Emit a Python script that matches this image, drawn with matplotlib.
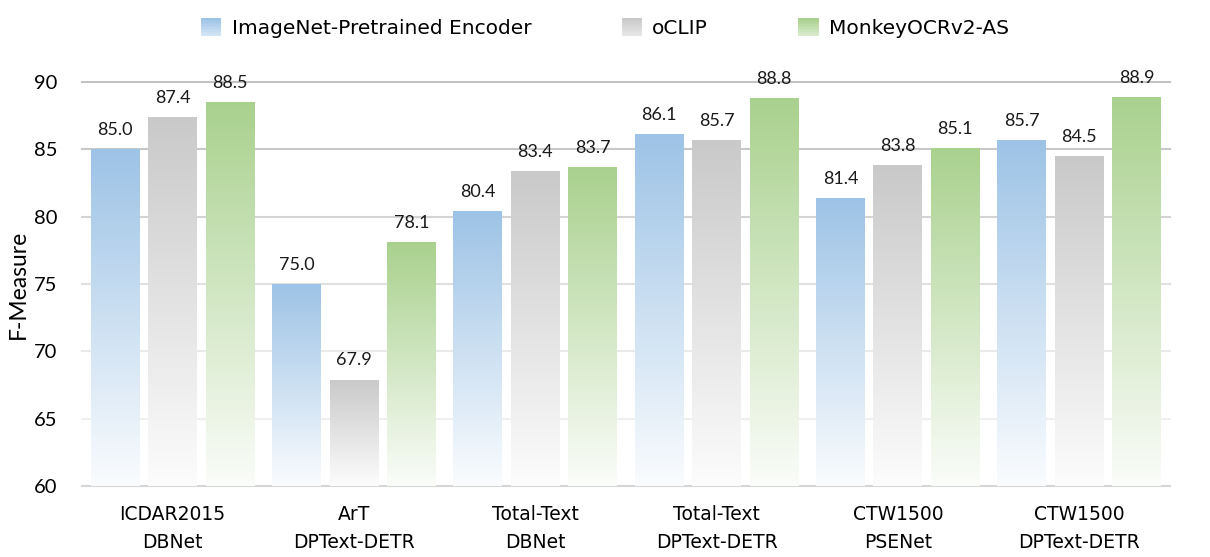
import numpy as np
import matplotlib.pyplot as plt
from matplotlib.patches import Rectangle
from matplotlib.legend_handler import HandlerBase
from matplotlib.colors import to_rgb

# Data
categories = ['ICDAR2015\nDBNet', 'ArT\nDPText-DETR', 'Total-Text\nDBNet',
              'Total-Text\nDPText-DETR', 'CTW1500\nPSENet', 'CTW1500\nDPText-DETR']
series_names = ['ImageNet-Pretrained Encoder', 'oCLIP', 'MonkeyOCRv2-AS']
imagenet = [85.0, 75.0, 80.4, 86.1, 81.4, 85.7]
oclip = [87.4, 67.9, 83.4, 85.7, 83.8, 84.5]
monkey = [88.5, 78.1, 83.7, 88.8, 85.1, 88.9]
yticks = [60, 65, 70, 75, 80, 85, 90]

colors = ['#9DC3E6', '#C9C9C9', '#A9D18E']
# gridlines fade towards the bottom
grid_colors = ['#D6D6D6', '#EFEFEF', '#EAEAEA', '#E0E0E0', '#D4D4D4', '#C8C8C8', '#C2C2C2']
label_font = ['Lato', 'DejaVu Sans']
cat_font = ['DejaVu Sans']


def fade(color, t):
    rgb = np.array(to_rgb(color))
    frac = 0.05 + 0.95 * t
    return np.ones(3) * (1 - frac) + rgb * frac


def gradient_bar(ax, x, width, bottom, top, color):
    t = np.linspace(0, 1, 256)[:, None]
    img = fade(color, t)[:, None, :]
    im = ax.imshow(img, extent=[x - width / 2, x + width / 2, bottom, top],
                   origin='lower', aspect='auto', zorder=2, interpolation='bicubic')
    rect = Rectangle((x - width / 2, bottom), width, top - bottom,
                     facecolor='none', edgecolor='none')
    ax.add_patch(rect)
    im.set_clip_path(rect)


class GradientHandler(HandlerBase):
    def create_artists(self, legend, orig_handle, xdescent, ydescent,
                       width, height, fontsize, trans):
        n = 12
        arts = []
        for k in range(n):
            t = 0.35 + 0.65 * (k + 1) / n
            r = Rectangle((-xdescent, -ydescent + height * k / n), width, height / n + 0.05,
                          facecolor=fade(orig_handle.get_facecolor(), t),
                          edgecolor='none', transform=trans)
            arts.append(r)
        return arts


def main():
    fig = plt.figure(figsize=(12.1, 5.57), dpi=100)
    ax = fig.add_axes([0.0678, 0.1275, 0.899, 0.7255])

    x = np.arange(len(categories))
    width = 0.27
    step = 0.317
    all_series = [imagenet, oclip, monkey]
    for i, vals in enumerate(all_series):
        for j, v in enumerate(vals):
            xc = x[j] + (i - 1) * step
            gradient_bar(ax, xc, width, 60, v, colors[i])
            ax.annotate(f'{v:.1f}', (xc, v), xytext=(0, 8), textcoords='offset points',
                        ha='center', va='bottom', fontsize=13, family=label_font,
                        color='#1a1a1a', annotation_clip=False)

    ax.set_xlim(-0.5, len(categories) - 0.5)
    ax.set_ylim(60, 90)
    ax.set_yticks(yticks)
    ax.set_xticks(x)
    ax.set_xticklabels(categories, fontsize=13.5, family=cat_font, linespacing=1.55)
    ax.tick_params(axis='both', length=0)
    ax.tick_params(axis='x', pad=14)
    ax.tick_params(axis='y', pad=18)
    for lab in ax.get_yticklabels():
        lab.set_fontsize(14.5)
        lab.set_family(label_font)
    for yv, gc in zip(yticks, grid_colors):
        ax.axhline(yv, color=gc, linewidth=1.5, zorder=0.5, clip_on=False)
    for s in ['top', 'right', 'left', 'bottom']:
        ax.spines[s].set_visible(False)
    ax.set_ylabel('F-Measure', fontsize=16.5, family=label_font, labelpad=3)

    handles = [Rectangle((0, 0), 1, 1, facecolor=c, edgecolor='none') for c in colors]
    fig.legend(handles, series_names, loc='upper center', bbox_to_anchor=(0.5, 1.0),
               ncol=3, frameon=False, handlelength=1.0, handleheight=1.0,
               handletextpad=0.5, columnspacing=4.5,
               prop={'family': cat_font, 'size': 14.5},
               handler_map={Rectangle: GradientHandler()})

    fig.savefig('out.png', dpi=100)


if __name__ == '__main__':
    main()
